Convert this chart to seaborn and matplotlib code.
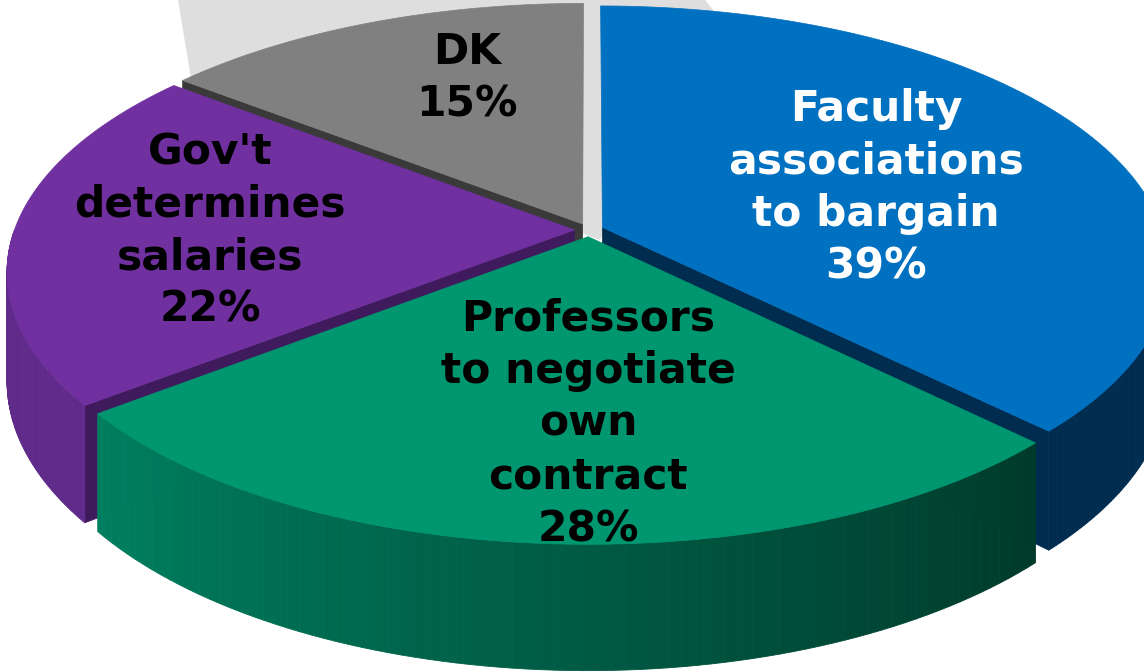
import numpy as np
import matplotlib
matplotlib.use("Agg")
import matplotlib.pyplot as plt
from matplotlib.patches import Polygon
from matplotlib.colors import to_rgb
import seaborn as sns

# Survey answers, shares in percent (clockwise from 12 o'clock)
categories = ["Faculty\nassociations\nto bargain",
              "Professors\nto negotiate\nown\ncontract",
              "Gov't\ndetermines\nsalaries",
              "DK"]
shares = [39, 28, 22, 15]

# Styling per slice
top_colors = ["#0070C0", "#00966F", "#7030A0", "#808080"]
# outer wall colour at the left end / right end of the visible wall
rim_colors = [("#002C4F", "#002C4F"), ("#007F60", "#003A2A"),
              ("#5F2A8A", "#5F2A8A"), ("#5A5A5A", "#5A5A5A")]
face_colors = ["#002C4F", "#004A36", "#3F1B5E", "#3A3A3A"]
text_colors = ["white", "black", "black", "black"]
label_pos = [(876, 188), (588, 424), (210, 231), (467, 78)]

sns.set_theme(style="white")
plt.rcParams["font.family"] = ["DejaVu Sans"]

W, H_PX = 1144, 672
fig = plt.figure(figsize=(W / 100, H_PX / 100), dpi=100)
ax = fig.add_axes([0, 0, 1, 1])
ax.set_xlim(0, W)
ax.set_ylim(H_PX, 0)
ax.axis("off")

# pseudo-perspective projection of a flat cylinder
CX, CY = 589, 230
AX_R, BY_R = 560, 257
PERSP = 0.157
THICK = 106
EXPLODE = 0.026


def project(x, y, z):
    p = 1.0 / (1.0 - PERSP * y)
    return CX + AX_R * x * p, CY + BY_R * y * p - THICK * z * p


def rim(theta_deg, off, z):
    t = np.radians(theta_deg)
    return project(off[0] + np.sin(t), off[1] - np.cos(t), z)


def lerp(c1, c2, f):
    a, b = np.array(to_rgb(c1)), np.array(to_rgb(c2))
    return tuple(a + (b - a) * f)


# light backdrop behind the pie
ax.add_patch(Polygon([(178, 0), (193, 90), (600, 240), (726, 26), (705, 0)],
                     closed=True, facecolor="#DEDEDE", edgecolor="none", zorder=0))

total = float(sum(shares))
bounds = np.concatenate([[0], np.cumsum(shares) / total * 360.0])

slices = []
for i in range(len(shares)):
    t1, t2 = bounds[i], bounds[i + 1]
    mid = np.radians((t1 + t2) / 2)
    off = (EXPLODE * np.sin(mid), -EXPLODE * np.cos(mid))
    slices.append((i, t1, t2, off))

# back slices first, front slice last
order = [3, 2, 0, 1]
z = 1
for i in order:
    _, t1, t2, off = slices[i]
    apex_top = project(off[0], off[1], 0)
    apex_bot = project(off[0], off[1], -1)

    # radial faces turned toward the viewer
    for tb, normal in ((t1, t1 - 90), (t2, t2 + 90)):
        if np.cos(np.radians(normal)) < -1e-6:
            quad = [apex_top, rim(tb, off, 0), rim(tb, off, -1), apex_bot]
            ax.add_patch(Polygon(quad, closed=True, facecolor=face_colors[i],
                                 edgecolor=face_colors[i], lw=0.5, zorder=z))
    z += 1

    # outer wall, visible on the front half; shaded from left (light) to right (dark)
    lo, hi = max(t1, 90), min(t2, 270)
    if hi > lo:
        edges = np.linspace(lo, hi, 80)
        left_c, right_c = rim_colors[i]
        for a, b in zip(edges[:-1], edges[1:]):
            f = ((a + b) / 2 - lo) / (hi - lo)  # 0 at right end, 1 at left end
            col = lerp(right_c, left_c, f)
            strip = [rim(a, off, 0), rim(b, off, 0), rim(b, off, -1), rim(a, off, -1)]
            ax.add_patch(Polygon(strip, closed=True, facecolor=col,
                                 edgecolor=col, lw=0.6, zorder=z))
    z += 1

    # top surface
    arc = [rim(t, off, 0) for t in np.linspace(t1, t2, 120)]
    ax.add_patch(Polygon([apex_top] + arc, closed=True, facecolor=top_colors[i],
                         edgecolor=top_colors[i], lw=0.5, zorder=z))
    z += 1

for i, (name, val) in enumerate(zip(categories, shares)):
    x, y = label_pos[i]
    ax.text(x, y, f"{name}\n{val}%", ha="center", va="center",
            fontsize=30.5, fontweight="bold", color=text_colors[i],
            linespacing=1.32, zorder=100)

fig.savefig("out.png", dpi=100)
